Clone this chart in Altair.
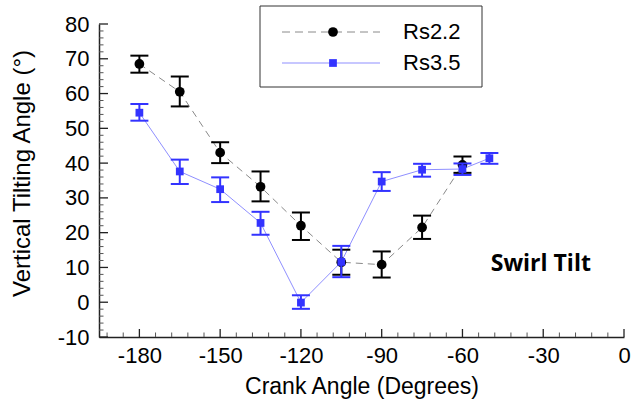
import altair as alt
import pandas as pd

# ---------------- data ----------------
series_names = ["Rs2.2", "Rs3.5"]

angles_22 = [-180, -165, -150, -135, -120, -105, -90, -75, -60]
tilt_22 = [68.5, 60.5, 43.0, 33.2, 22.0, 11.5, 10.8, 21.5, 39.5]
lo_22 = [66.0, 56.3, 40.0, 29.0, 17.9, 7.9, 7.1, 18.2, 37.2]
hi_22 = [70.9, 64.9, 46.0, 37.6, 25.8, 15.1, 14.6, 24.9, 41.9]

angles_35 = [-180, -165, -150, -135, -120, -105, -90, -75, -60, -50]
tilt_35 = [54.5, 37.6, 32.5, 22.8, -0.1, 11.6, 34.7, 38.1, 38.3, 41.4]
lo_35 = [52.2, 34.0, 28.8, 19.4, -1.9, 7.2, 32.0, 36.1, 36.6, 39.8]
hi_35 = [57.0, 41.0, 35.9, 26.0, 2.0, 16.2, 37.4, 39.8, 39.9, 42.9]

x_major = [-180, -150, -120, -90, -60, -30, 0]
x_minor = [v for v in range(-192, 0, 6) if v % 30 != 0]
y_major = [-10, 0, 10, 20, 30, 40, 50, 60, 70, 80]
y_minor = [v for v in range(-8, 80, 2) if v % 10 != 0]

annotation = ["Swirl Tilt"]
annot_x = [-49.5]
annot_y = [8.9]

# ---------------- tables ----------------
d22 = pd.DataFrame({"x": angles_22, "y": tilt_22, "lo": lo_22, "hi": hi_22})
d35 = pd.DataFrame({"x": angles_35, "y": tilt_35, "lo": lo_35, "hi": hi_35})
leg = pd.DataFrame({"name": series_names})
ann = pd.DataFrame({"t": annotation, "x": annot_x, "y": annot_y})

W, H = 525, 313
FONT = "Liberation Sans"
AX = "#222222"
BLACK = "#000000"
GRAYLINE = "#8a8a8a"
BLUE = "#3333ff"
BLUELINE = "#8f8fff"

xs = alt.Scale(domain=[-195, 0], nice=False, zero=False)
ys = alt.Scale(domain=[-10, 80], nice=False, zero=False)

x_axis = alt.Axis(values=x_major, ticks=False, grid=False, labelFontSize=22,
                  labelFont=FONT, labelColor="#000", labelPadding=8,
                  labelExpr="toString(datum.value)",
                  domainColor=AX, domainWidth=1.5, title="Crank Angle (Degrees)",
                  titleFont=FONT, titleFontSize=23, titleFontWeight="normal",
                  titleColor="#000", titleY=49, titleBaseline="middle",
                  labelFlush=False, labelOverlap=False)
y_axis = alt.Axis(values=y_major, ticks=False, grid=False, labelFontSize=22,
                  labelFont=FONT, labelColor="#000", labelPadding=10,
                  labelExpr="toString(datum.value)",
                  domainColor=AX, domainWidth=1.5,
                  title="Vertical Tilting Angle (°)", titleFont=FONT,
                  titleFontSize=24, titleFontWeight="normal", titleColor="#000",
                  titleX=-77, titleY=149, titleAngle=-90, titleAlign="center",
                  titleBaseline="middle", labelFlush=False, labelOverlap=False)


def X(f):
    return alt.X(f, type="quantitative", scale=xs, axis=x_axis)


def Y(f):
    return alt.Y(f, type="quantitative", scale=ys, axis=y_axis)


# ticks drawn inward
xt_major = alt.Chart(pd.DataFrame({"v": x_major})).mark_rule(color=AX, strokeWidth=1.3).encode(
    x=X("v"), y=alt.value(H), y2=alt.value(H - 8))
xt_minor = alt.Chart(pd.DataFrame({"v": x_minor})).mark_rule(color="#555", strokeWidth=1).encode(
    x=X("v"), y=alt.value(H), y2=alt.value(H - 4.5))
yt_major = alt.Chart(pd.DataFrame({"v": y_major})).mark_rule(color=AX, strokeWidth=1.3).encode(
    y=Y("v"), x=alt.value(0), x2=alt.value(9))
yt_minor = alt.Chart(pd.DataFrame({"v": y_minor})).mark_rule(color="#555", strokeWidth=1).encode(
    y=Y("v"), x=alt.value(0), x2=alt.value(4.5))

# series
line22 = alt.Chart(d22).mark_line(color=GRAYLINE, strokeWidth=1, strokeDash=[7, 5]).encode(
    x=X("x"), y=Y("y"))
line35 = alt.Chart(d35).mark_line(color=BLUELINE, strokeWidth=1).encode(
    x=X("x"), y=Y("y"))

err22 = alt.Chart(d22).mark_rule(color=BLACK, strokeWidth=2).encode(x=X("x"), y=Y("lo"), y2="hi")
caplo22 = alt.Chart(d22).mark_rule(color=BLACK, strokeWidth=2, xOffset=-9, x2Offset=9).encode(
    x=X("x"), x2="x", y=Y("lo"))
caphi22 = alt.Chart(d22).mark_rule(color=BLACK, strokeWidth=2, xOffset=-9, x2Offset=9).encode(
    x=X("x"), x2="x", y=Y("hi"))
pts22 = alt.Chart(d22).mark_point(filled=True, shape="circle", color=BLACK, size=95, opacity=1).encode(
    x=X("x"), y=Y("y"))

err35 = alt.Chart(d35).mark_rule(color=BLUE, strokeWidth=2).encode(x=X("x"), y=Y("lo"), y2="hi")
caplo35 = alt.Chart(d35).mark_rule(color=BLUE, strokeWidth=2, xOffset=-9, x2Offset=9).encode(
    x=X("x"), x2="x", y=Y("lo"))
caphi35 = alt.Chart(d35).mark_rule(color=BLUE, strokeWidth=2, xOffset=-9, x2Offset=9).encode(
    x=X("x"), x2="x", y=Y("hi"))
pts35 = alt.Chart(d35).mark_point(filled=True, shape="square", color=BLUE, size=60, opacity=1).encode(
    x=X("x"), y=Y("y"))

label = alt.Chart(ann).mark_text(align="left", baseline="alphabetic", font="Open Sans",
                                 fontWeight="bold", fontSize=23, color="#000").encode(
    x=X("x"), y=Y("y"), text="t:N")

# legend box
box = alt.Chart(pd.DataFrame({"a": [0]})).mark_rect(fill="white", stroke="#333", strokeWidth=1).encode(
    x=alt.value(161), x2=alt.value(383), y=alt.value(-18), y2=alt.value(63))
l1y, l2y = 8, 39
leg1 = leg[leg["name"] == series_names[0]]
leg2 = leg[leg["name"] == series_names[1]]
lg_line1 = alt.Chart(leg1).mark_rule(color=GRAYLINE, strokeWidth=1, strokeDash=[8, 5]).encode(
    x=alt.value(183), x2=alt.value(281), y=alt.value(l1y))
lg_pt1 = alt.Chart(leg1).mark_point(filled=True, shape="circle", color=BLACK, size=95, opacity=1).encode(
    x=alt.value(234), y=alt.value(l1y))
lg_tx1 = alt.Chart(leg1).mark_text(align="left", baseline="middle", font=FONT, fontSize=22, color="#000").encode(
    x=alt.value(304), y=alt.value(l1y), text="name:N")
lg_line2 = alt.Chart(leg2).mark_rule(color=BLUELINE, strokeWidth=1).encode(
    x=alt.value(183), x2=alt.value(281), y=alt.value(l2y))
lg_pt2 = alt.Chart(leg2).mark_point(filled=True, shape="square", color=BLUE, size=60, opacity=1).encode(
    x=alt.value(234), y=alt.value(l2y))
lg_tx2 = alt.Chart(leg2).mark_text(align="left", baseline="middle", font=FONT, fontSize=22, color="#000").encode(
    x=alt.value(304), y=alt.value(l2y), text="name:N")

chart = alt.layer(
    xt_minor, xt_major, yt_minor, yt_major,
    line22, line35,
    err22, caplo22, caphi22, pts22,
    err35, caplo35, caphi35, pts35,
    label,
    box, lg_line1, lg_pt1, lg_tx1, lg_line2, lg_pt2, lg_tx2,
).properties(
    width=W, height=H,
    autosize=alt.AutoSizeParams(type="none"),
    padding={"left": 99, "top": 24, "right": 7, "bottom": 69},
    background="white",
).configure_view(stroke=None)

chart.save("out.html", embed_options={"renderer": "svg", "actions": False})
